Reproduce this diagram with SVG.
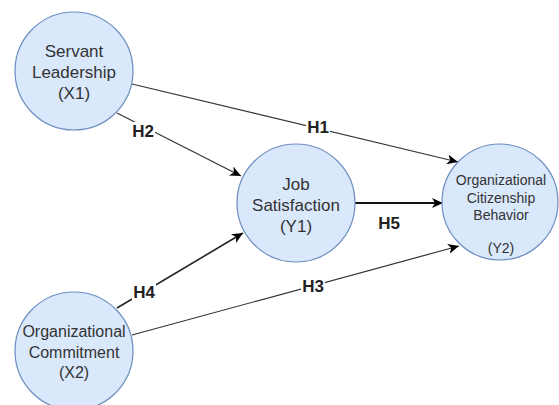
<svg xmlns="http://www.w3.org/2000/svg" width="559" height="405" viewBox="0 0 559 405">
  <style>
    .node { fill: #dae8fc; stroke: #6c8ebf; stroke-width: 1.2; }
    .t { font-family: "Liberation Sans", Arial, Helvetica, sans-serif; fill: #333333; text-anchor: middle; }
    .edge { fill: none; stroke: #333333; stroke-width: 1.2; }
    .thick { stroke: #111111; stroke-width: 2; }
    .mid { stroke: #222222; stroke-width: 1.6; }
    .lbl { font-family: "Liberation Sans", Arial, Helvetica, sans-serif; font-size: 17px; font-weight: bold; fill: #222222; text-anchor: middle; }
    .lblbg { fill: #ffffff; }
  </style>
  <defs>
    <marker id="arrow" markerUnits="userSpaceOnUse" markerWidth="12" markerHeight="10" refX="11" refY="5" orient="auto" viewBox="0 0 12 10">
      <path d="M0,0 L11,5 L0,10 L3,5 Z" fill="#000000"/>
    </marker>
  </defs>
  <rect width="559" height="405" fill="#ffffff"/>

  <g id="connectors">
    <g id="e-h1">
      <line class="edge" x1="132" y1="84" x2="458" y2="162" marker-end="url(#arrow)"/>
      <rect class="lblbg" x="306" y="118" width="24" height="18"/>
      <text class="lbl" x="318" y="133">H1</text>
    </g>
    <g id="e-h2">
      <line class="edge" x1="117" y1="113" x2="241" y2="176" marker-end="url(#arrow)"/>
      <rect class="lblbg" x="131" y="122" width="24" height="18"/>
      <text class="lbl" x="143" y="137">H2</text>
    </g>
    <g id="e-h3">
      <line class="edge" x1="132" y1="335" x2="459" y2="246" marker-end="url(#arrow)"/>
      <rect class="lblbg" x="301" y="277" width="24" height="18"/>
      <text class="lbl" x="313" y="292">H3</text>
    </g>
    <g id="e-h4">
      <line class="edge mid" x1="117" y1="308" x2="243" y2="233" marker-end="url(#arrow)"/>
      <rect class="lblbg" x="132" y="283" width="24" height="18"/>
      <text class="lbl" x="144" y="298">H4</text>
    </g>
    <g id="e-h5">
      <line class="edge thick" x1="355" y1="203" x2="443" y2="203" marker-end="url(#arrow)"/>
      <text class="lbl" x="389" y="229">H5</text>
    </g>
  </g>

  <g id="x1">
    <circle class="node" cx="74" cy="71" r="59"/>
    <text class="t" font-size="17" x="74" y="57">Servant</text>
    <text class="t" font-size="17" x="74" y="78">Leadership</text>
    <text class="t" font-size="17" x="74" y="99">(X1)</text>
  </g>

  <g id="y1">
    <circle class="node" cx="296" cy="203" r="59"/>
    <text class="t" font-size="17" x="296" y="190">Job</text>
    <text class="t" font-size="17" x="296" y="211">Satisfaction</text>
    <text class="t" font-size="17" x="296" y="232">(Y1)</text>
  </g>

  <g id="y2">
    <circle class="node" cx="500" cy="202" r="58"/>
    <text class="t" font-size="14" x="501" y="185">Organizational</text>
    <text class="t" font-size="14" x="501" y="202.5">Citizenship</text>
    <text class="t" font-size="14" x="501" y="220">Behavior</text>
    <text class="t" font-size="14" x="501" y="253">(Y2)</text>
  </g>

  <g id="x2">
    <circle class="node" cx="74" cy="351" r="59"/>
    <text class="t" font-size="16" x="74" y="337">Organizational</text>
    <text class="t" font-size="16" x="74" y="358">Commitment</text>
    <text class="t" font-size="16" x="74" y="378">(X2)</text>
  </g>
</svg>
